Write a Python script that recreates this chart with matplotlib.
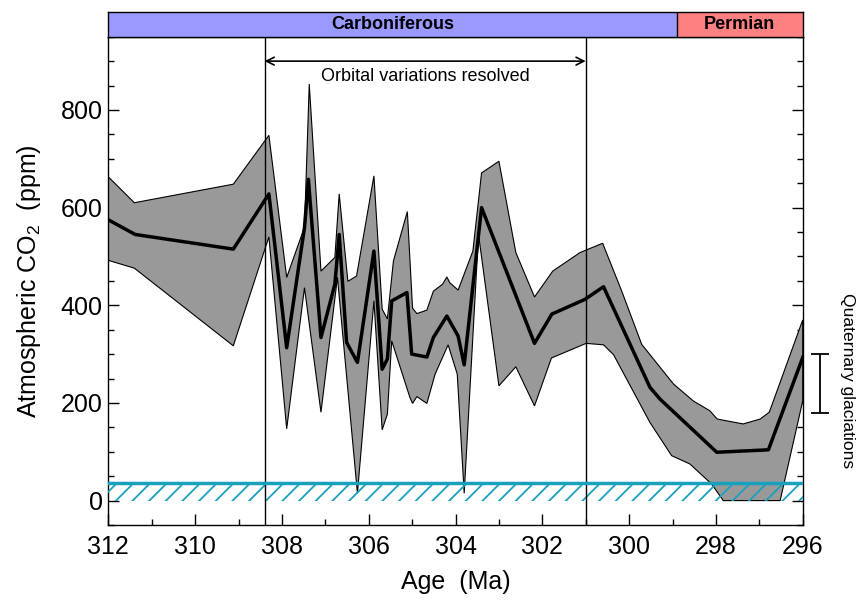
import numpy as np
import matplotlib
matplotlib.use("Agg")
import matplotlib.pyplot as plt
from matplotlib.ticker import MultipleLocator

plt.rcParams['font.family'] = ['Liberation Sans', 'DejaVu Sans']
plt.rcParams['mathtext.fontset'] = 'custom'
plt.rcParams['mathtext.rm'] = 'Liberation Sans'
plt.rcParams['mathtext.it'] = 'Liberation Sans:italic'
plt.rcParams['hatch.linewidth'] = 1.3

# curva media de CO2 (Ma, ppm)
mean_age = [312.0, 311.38, 309.12, 308.30, 307.89, 307.48, 307.39, 307.10, 306.78, 306.68,
            306.51, 306.26, 305.88, 305.69, 305.57, 305.47, 305.12, 305.01, 304.66, 304.51,
            304.20, 303.94, 303.80, 303.40, 302.18, 301.78, 301.02, 300.59, 299.52, 299.29,
            297.98, 296.79, 296.0]
mean_co2 = [575, 545, 515, 628, 313, 559, 658, 334, 443, 545,
            324, 283, 511, 269, 290, 409, 426, 300, 294, 334,
            378, 337, 278, 600, 322, 382, 412, 438, 232, 208,
            99, 104, 293]

# limite superior de la banda
up_age = [312.0, 311.40, 309.12, 308.30, 307.89, 307.48, 307.37, 307.10, 306.78, 306.68,
          306.48, 306.28, 305.88, 305.69, 305.57, 305.43, 305.11, 304.99, 304.89, 304.66,
          304.51, 304.30, 304.20, 304.13, 303.94, 303.60, 303.40, 303.00, 302.61, 302.18,
          301.76, 301.13, 300.61, 300.17, 299.71, 298.98, 298.52, 298.14, 297.97, 297.37,
          296.98, 296.77, 296.0]
up_co2 = [663, 610, 648, 748, 457, 560, 853, 470, 498, 628,
          449, 460, 665, 392, 372, 491, 592, 394, 383, 390,
          429, 443, 458, 446, 431, 511, 671, 695, 508, 417,
          470, 508, 527, 429, 320, 239, 204, 184, 167, 157,
          167, 181, 370]

# limite inferior de la banda
lo_age = [312.0, 311.40, 309.12, 308.30, 307.89, 307.48, 307.10, 306.72, 306.26, 305.88,
          305.69, 305.57, 305.47, 305.05, 304.99, 304.89, 304.66, 304.47, 304.17, 303.96,
          303.80, 303.47, 303.00, 302.61, 302.18, 301.79, 300.99, 300.59, 300.36, 299.52,
          299.02, 298.60, 298.10, 297.83, 296.52, 296.0]
lo_co2 = [492, 476, 317, 540, 147, 436, 181, 457, 15, 409,
          145, 177, 327, 211, 199, 213, 199, 259, 319, 259,
          15, 545, 235, 274, 194, 292, 322, 319, 299, 160,
          92, 75, 34, 0, 0, 204]

periods = ['Carboniferous', 'Permian']
period_bounds = [(312.0, 298.9), (298.9, 296.0)]
period_colors = ['#9999ff', '#ff8080']

orbital_window = (308.4, 301.0)
starvation_co2 = 36
quaternary_range = (180, 300)

teal = '#19a0bd'

fig = plt.figure(figsize=(8.61, 6.02), dpi=100)
ax = fig.add_axes([0.1258, 0.1279, 0.8065, 0.8111])
ax_top = fig.add_axes([0.1258, 0.939, 0.8065, 0.0405])

# banda de incertidumbre y curva media
ax.fill(up_age + lo_age[::-1], up_co2 + lo_co2[::-1], facecolor='#999999',
        edgecolor='black', linewidth=0.8, zorder=2)
ax.plot(mean_age, mean_co2, color='black', linewidth=2.5, zorder=3)

# zona rayada
ax.fill_between([312, 296], 0, starvation_co2, facecolor='none', edgecolor=teal,
                hatch='//', linewidth=0, zorder=4)
ax.axhline(starvation_co2, color=teal, linewidth=2.5, zorder=5)

# ventana orbital
for a in orbital_window:
    ax.axvline(a, color='black', linewidth=1.0, zorder=4)
ax.annotate('', xy=(orbital_window[1], 900), xytext=(orbital_window[0], 900),
            arrowprops=dict(arrowstyle='<->', color='black', lw=1.2,
                            shrinkA=0, shrinkB=0, mutation_scale=14))
ax.text(np.mean(orbital_window), 868, 'Orbital variations resolved',
        ha='center', va='center', fontsize=13)

# glaciaciones cuaternarias
ax.errorbar([295.6], [np.mean(quaternary_range)],
            yerr=[[np.mean(quaternary_range) - quaternary_range[0]],
                  [quaternary_range[1] - np.mean(quaternary_range)]],
            color='black', capsize=6.5, elinewidth=1.3, capthick=1.3, clip_on=False)
ax.text(294.97, 245, 'Quaternary glaciations', rotation=270, ha='center',
        va='center', fontsize=12.6, clip_on=False)

ax.set_xlim(312, 296)
ax.set_ylim(-50, 950)
ax.xaxis.set_major_locator(MultipleLocator(2))
ax.xaxis.set_minor_locator(MultipleLocator(1))
ax.yaxis.set_major_locator(MultipleLocator(200))
ax.yaxis.set_minor_locator(MultipleLocator(50))
ax.tick_params(which='both', direction='in', top=False, right=True, width=1.0)
ax.tick_params(which='major', length=8, labelsize=18)
ax.tick_params(which='minor', length=4)
ax.tick_params(axis='x', which='major', pad=7)
ax.tick_params(axis='y', which='major', pad=4)
for s in ax.spines.values():
    s.set_linewidth(1.0)

ax.set_xlabel('Age  (Ma)', fontsize=18, labelpad=8)
ax.set_ylabel(r'Atmospheric CO$_\mathrm{2}$  (ppm)', fontsize=18, labelpad=13)

# barra de periodos
for name, (a0, a1), c in zip(periods, period_bounds, period_colors):
    ax_top.axvspan(a0, a1, color=c, linewidth=0)
    ax_top.text((a0 + a1) / 2, 0.5, name, ha='center', va='center',
                fontsize=13, fontweight='bold')
ax_top.axvline(period_bounds[0][1], color='black', linewidth=1.0)
ax_top.set_xlim(312, 296)
ax_top.set_ylim(0, 1)
ax_top.set_xticks([])
ax_top.set_yticks([])
for s in ax_top.spines.values():
    s.set_linewidth(1.0)

fig.savefig('out.png', dpi=100)
